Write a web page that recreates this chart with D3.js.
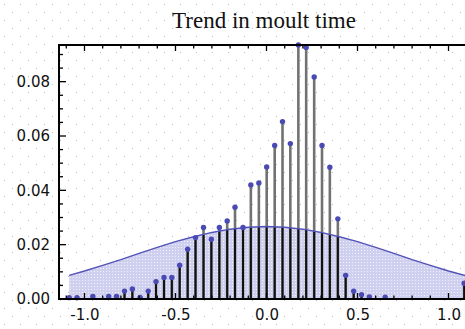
<!DOCTYPE html>
<html>
<head>
<meta charset="utf-8">
<script src="https://cdn.jsdelivr.net/npm/d3@7"></script>
<style>
  html, body { margin: 0; padding: 0; background: #fff; }
  svg { display: block; }
</style>
</head>
<body>
<div id="chart"></div>
<script>
// stem positions (moult time trend) and heights
const stemX = [-1.084, -1.041, -0.954, -0.867, -0.824, -0.780, -0.737, -0.694, -0.650, -0.607,
  -0.563, -0.520, -0.477, -0.433, -0.390, -0.346, -0.303, -0.259, -0.216, -0.173,
  -0.129, -0.086, -0.042, 0.001, 0.045, 0.088, 0.131, 0.175, 0.218, 0.262,
  0.305, 0.348, 0.392, 0.435, 0.479, 0.522, 0.565, 0.652, 1.086];
const stemY = [0.0005, 0.0005, 0.0009, 0.0009, 0.0009, 0.0029, 0.0037, 0.0006, 0.0029, 0.0064,
  0.0079, 0.0079, 0.0124, 0.0183, 0.0226, 0.0263, 0.0220, 0.0263, 0.0287, 0.0338,
  0.0263, 0.0420, 0.0427, 0.0486, 0.0565, 0.0653, 0.0572, 0.0935, 0.0926, 0.0817,
  0.0565, 0.0485, 0.0295, 0.0087, 0.0029, 0.0016, 0.0008, 0.0007, 0.0058];

// fitted density curve
const curveX = [-1.084, -1.0, -0.9, -0.8, -0.7, -0.6, -0.5, -0.4, -0.3, -0.2, -0.1, 0.0,
  0.1, 0.2, 0.3, 0.4, 0.5, 0.6, 0.7, 0.8, 0.9, 1.0, 1.1, 1.2];
const curveY = [0.0087, 0.0103, 0.0124, 0.0145, 0.0168, 0.0190, 0.0211, 0.0229, 0.0245, 0.0257, 0.0264, 0.0267,
  0.0264, 0.0257, 0.0245, 0.0229, 0.0211, 0.0190, 0.0168, 0.0145, 0.0124, 0.0103, 0.0085, 0.0068];

const xTicks = [-1.0, -0.5, 0.0, 0.5, 1.0];
const yTicks = [0.00, 0.02, 0.04, 0.06, 0.08];

const width = 465;
const height = 329;

const x = d3.scaleLinear().domain([-1.14, 1.14]).range([59, 474]);
const y = d3.scaleLinear().domain([0, 0.0935]).range([299, 45]);

const svg = d3.select('#chart')
  .append('svg')
  .attr('width', width)
  .attr('height', height);

const defs = svg.append('defs');

// dotted page background
const bg = defs.append('pattern')
  .attr('id', 'bgdots')
  .attr('width', 16).attr('height', 16)
  .attr('patternUnits', 'userSpaceOnUse');
bg.append('rect').attr('x', 4).attr('y', 4).attr('width', 1).attr('height', 1).attr('fill', '#bdbdbd');
bg.append('rect').attr('x', 12).attr('y', 12).attr('width', 1).attr('height', 1).attr('fill', '#bdbdbd');

// textured fill under the curve
const fillPat = defs.append('pattern')
  .attr('id', 'areafill')
  .attr('width', 3).attr('height', 3)
  .attr('patternUnits', 'userSpaceOnUse');
fillPat.append('rect').attr('width', 3).attr('height', 3).attr('fill', '#cfcff0');
fillPat.append('rect').attr('x', 1).attr('y', 1).attr('width', 1).attr('height', 1).attr('fill', '#f4f0fa');

svg.append('rect').attr('width', width).attr('height', height).attr('fill', 'url(#bgdots)');

const curveData = curveX.map((d, i) => ({ x: d, y: curveY[i] }));
const stems = stemX.map((d, i) => ({ x: d, y: stemY[i] }));

const area = d3.area()
  .x(d => x(d.x))
  .y0(y(0))
  .y1(d => y(d.y));

defs.append('clipPath').attr('id', 'underCurve')
  .append('path').attr('d', area(curveData));

svg.append('path')
  .attr('d', area(curveData))
  .attr('fill', 'url(#areafill)');

// stems: grey above curve, black inside the filled region
svg.selectAll('line.stem')
  .data(stems)
  .enter()
  .append('line')
  .attr('class', 'stem')
  .attr('x1', d => x(d.x)).attr('x2', d => x(d.x))
  .attr('y1', y(0)).attr('y2', d => y(d.y))
  .attr('stroke', '#727272')
  .attr('stroke-width', 2.6);

svg.append('g')
  .attr('clip-path', 'url(#underCurve)')
  .selectAll('line')
  .data(stems)
  .enter()
  .append('line')
  .attr('x1', d => x(d.x)).attr('x2', d => x(d.x))
  .attr('y1', y(0)).attr('y2', d => y(d.y))
  .attr('stroke', '#111')
  .attr('stroke-width', 2);

svg.append('path')
  .attr('d', d3.line().x(d => x(d.x)).y(d => y(d.y))(curveData))
  .attr('fill', 'none')
  .attr('stroke', '#5252b8')
  .attr('stroke-width', 1.4);

svg.selectAll('circle')
  .data(stems)
  .enter()
  .append('circle')
  .attr('cx', d => x(d.x))
  .attr('cy', d => y(d.y))
  .attr('r', 2.7)
  .attr('fill', '#4a4ab4');

// axes / frame
const axisBottom = d3.axisBottom(x).tickValues(xTicks).tickFormat(d3.format('.1f')).tickSize(0).tickPadding(10);
const axisLeft = d3.axisLeft(y).tickValues(yTicks).tickFormat(d3.format('.2f')).tickSize(0).tickPadding(9);

const gx = svg.append('g').attr('transform', `translate(0,${y(0)})`).call(axisBottom);
const gy = svg.append('g').attr('transform', `translate(${x.range()[0]},0)`).call(axisLeft);
[gx, gy].forEach(g => {
  g.select('.domain').remove();
  g.selectAll('text')
    .attr('font-family', 'DejaVu Sans, sans-serif')
    .attr('font-size', 15)
    .attr('fill', '#111');
});
gx.selectAll('text').text(d => d3.format('.1f')(d).replace('−', '-'));

// minor tick marks
const xMinor = d3.range(-11, 12).map(d => d / 10);
const yMinor = d3.range(0, 19).map(d => d * 0.005);

const tickG = svg.append('g').attr('stroke', '#000').attr('stroke-width', 1.3);
tickG.selectAll('line.bx').data(xMinor).enter().append('line')
  .attr('x1', d => x(d)).attr('x2', d => x(d))
  .attr('y1', y(0)).attr('y2', d => y(0) - (Math.abs(d * 2 - Math.round(d * 2)) < 1e-6 ? 6 : 3.5));
tickG.selectAll('line.tx').data(xMinor).enter().append('line')
  .attr('x1', d => x(d)).attr('x2', d => x(d))
  .attr('y1', 45).attr('y2', d => 45 + (Math.abs(d * 2 - Math.round(d * 2)) < 1e-6 ? 6 : 3.5));
tickG.selectAll('line.ly').data(yMinor).enter().append('line')
  .attr('y1', d => y(d)).attr('y2', d => y(d))
  .attr('x1', 59).attr('x2', (d, i) => 59 + (i % 4 === 0 ? 7 : 4));

svg.append('line').attr('x1', 59).attr('x2', width).attr('y1', y(0)).attr('y2', y(0))
  .attr('stroke', '#000').attr('stroke-width', 2);
svg.append('line').attr('x1', 59).attr('x2', width).attr('y1', 45).attr('y2', 45)
  .attr('stroke', '#000').attr('stroke-width', 2);
svg.append('line').attr('x1', 59).attr('x2', 59).attr('y1', 44).attr('y2', 300)
  .attr('stroke', '#000').attr('stroke-width', 2);

svg.append('text')
  .attr('x', 264)
  .attr('y', 28)
  .attr('text-anchor', 'middle')
  .attr('font-family', 'Liberation Serif, serif')
  .attr('font-size', 23)
  .attr('fill', '#111')
  .text('Trend in moult time');
</script>
</body>
</html>
